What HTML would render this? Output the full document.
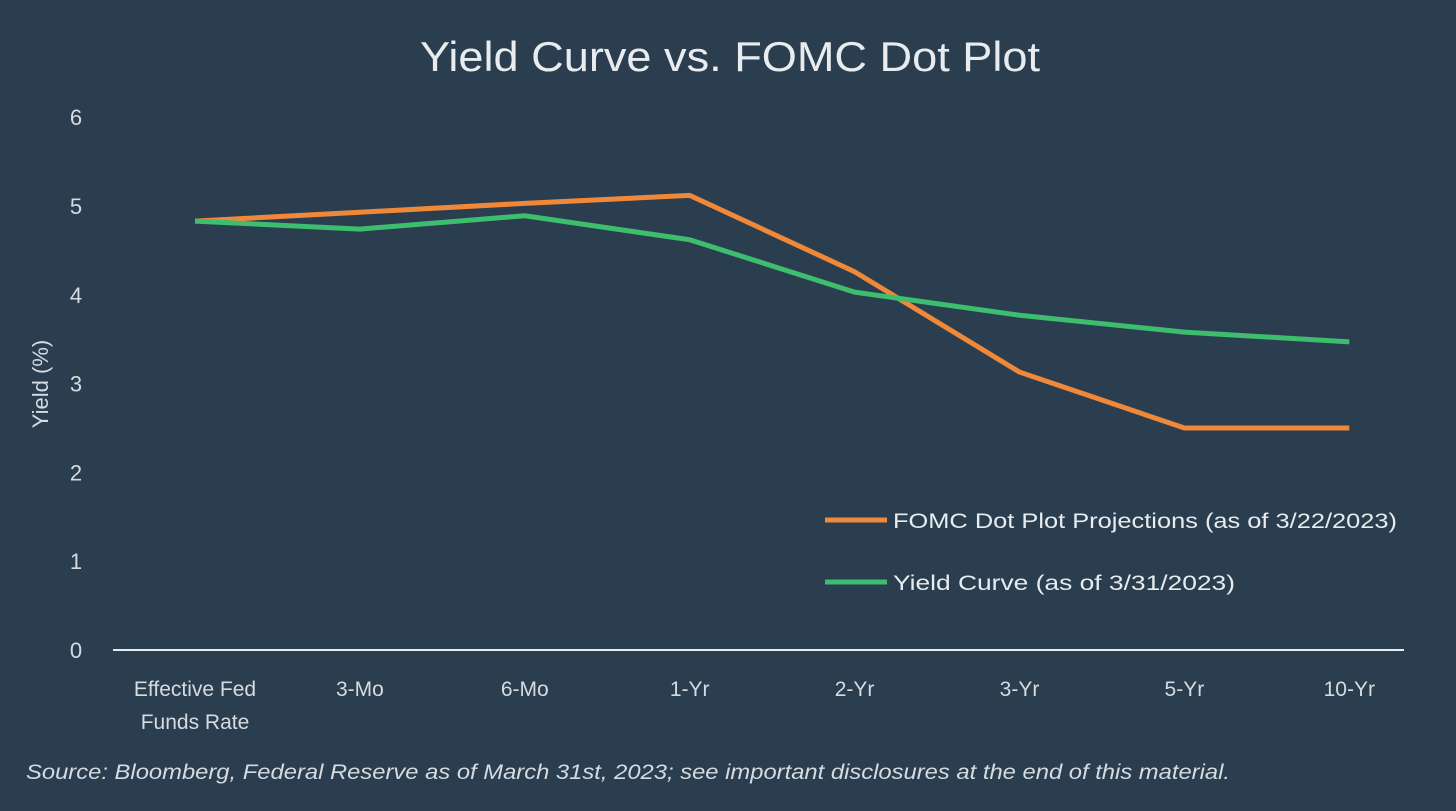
<!DOCTYPE html>
<html><head><meta charset="utf-8"><style>
html,body{margin:0;padding:0;background:#2a3e50;}
svg{display:block;font-family:"Liberation Sans",sans-serif;}
</style></head><body>
<svg id="chart" width="1456" height="811" viewBox="0 0 1456 811">
<rect width="1456" height="811" fill="#2a3e50"/>
<text x="420" y="71" textLength="620" lengthAdjust="spacingAndGlyphs" font-size="42" fill="#e8ecef">Yield Curve vs. FOMC Dot Plot</text>
<text transform="translate(48,384) rotate(-90)" text-anchor="middle" font-size="22" fill="#d5dbe0">Yield (%)</text>
<g id="yticks"></g><g id="xticks"></g>
<line x1="113" y1="650" x2="1404" y2="650" stroke="#e8ecef" stroke-width="2"/>
<g id="series"></g>
<g>
<line x1="825" y1="520" x2="887" y2="520" stroke="#f0883a" stroke-width="5"/>
<text x="893" y="528" textLength="504" lengthAdjust="spacingAndGlyphs" font-size="21" fill="#e8ecef">FOMC Dot Plot Projections (as of 3/22/2023)</text>
<line x1="825" y1="582" x2="887" y2="582" stroke="#3dbd6e" stroke-width="5"/>
<text x="893" y="590" textLength="342" lengthAdjust="spacingAndGlyphs" font-size="21" fill="#e8ecef">Yield Curve (as of 3/31/2023)</text>
</g>
<text x="26" y="779" textLength="1204" lengthAdjust="spacingAndGlyphs" font-size="21" font-style="italic" fill="#d5dbe0">Source: Bloomberg, Federal Reserve as of March 31st, 2023; see important disclosures at the end of this material.</text>
</svg>
<script>
const categories=[["Effective Fed","Funds Rate"],["3-Mo"],["6-Mo"],["1-Yr"],["2-Yr"],["3-Yr"],["5-Yr"],["10-Yr"]];
const fomcValues=[4.83,4.93,5.03,5.12,4.26,3.13,2.5,2.5];
const yieldValues=[4.83,4.74,4.89,4.62,4.03,3.77,3.58,3.47];
const yTickLabels=[0,1,2,3,4,5,6];
const NS="http://www.w3.org/2000/svg";
const xPos=i=>195+i*164.9;
const yPos=v=>650-v*88.8;
const yt=document.getElementById('yticks');
yTickLabels.forEach(v=>{const t=document.createElementNS(NS,'text');


t.setAttribute('x',76);t.setAttribute('y',yPos(v)+8);t.setAttribute('text-anchor','middle');
t.setAttribute('font-size','22');t.setAttribute('fill','#d5dbe0');t.textContent=v;yt.appendChild(t);});
const xt=document.getElementById('xticks');
categories.forEach((c,i)=>{c.forEach((line,j)=>{const t=document.createElementNS(NS,'text');


t.setAttribute('x',xPos(i));t.setAttribute('y',696+j*33);t.setAttribute('text-anchor','middle');
t.setAttribute('font-size','21');t.setAttribute('fill','#d5dbe0');t.textContent=line;xt.appendChild(t);});});
const sg=document.getElementById('series');
function drawLine(vals,color,name){const p=document.createElementNS(NS,'polyline');


p.setAttribute('points',vals.map((v,i)=>xPos(i)+','+yPos(v)).join(' '));
p.setAttribute('fill','none');p.setAttribute('stroke',color);p.setAttribute('stroke-width','5');
p.setAttribute('stroke-linejoin','round');sg.appendChild(p);}
drawLine(fomcValues,'#f0883a','fomc-line');
drawLine(yieldValues,'#3dbd6e','yield-curve-line');
</script>
</body></html>
